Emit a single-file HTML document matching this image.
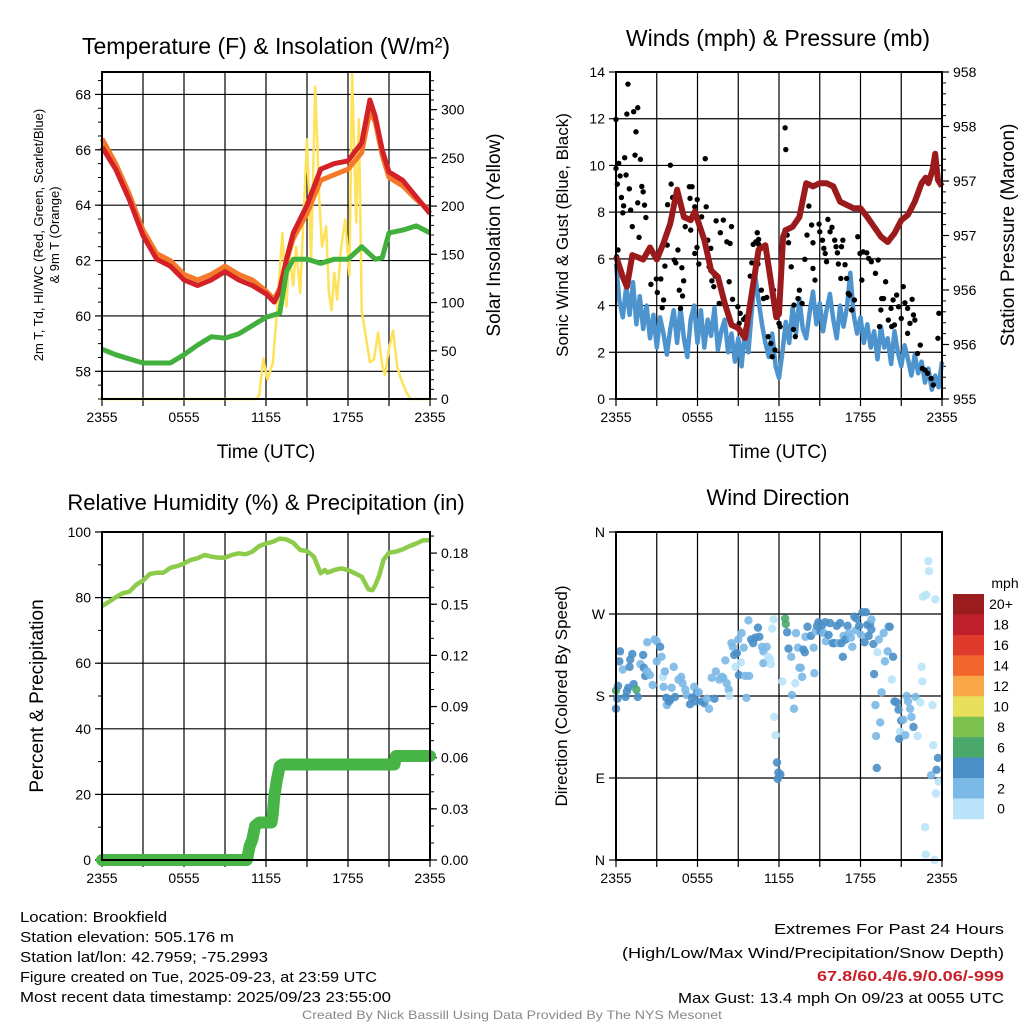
<!DOCTYPE html>
<html><head><meta charset="utf-8"><style>
html,body{margin:0;padding:0;background:#fff;}
svg{display:block;font-family:"Liberation Sans",sans-serif;}
</style></head><body>
<svg id="fig" width="1024" height="1024" viewBox="0 0 1024 1024" xmlns="http://www.w3.org/2000/svg">
<g id="root"></g>
</svg>
<script>
// ===== Panel 1 data =====
const tempHours = [0,1,2,3,4,5,6,7,8,9,10,11,12,12.6,13,13.5,14,15,16,17,18,19,19.6,20,20.5,21,22,23,24];
const tempRed   = [66.1,65.3,64.2,62.9,62.05,61.8,61.3,61.1,61.3,61.6,61.3,61.1,60.8,60.5,60.9,62.05,63.0,64.0,65.3,65.5,65.6,66.25,67.8,67.2,66.0,65.2,64.9,64.3,63.7];
const tempOrange= [66.4,65.5,64.4,63.1,62.25,62.0,61.5,61.3,61.5,61.8,61.5,61.3,60.9,60.6,61.0,62.0,62.8,63.7,64.9,65.1,65.3,65.9,67.4,67.0,65.8,65.0,64.7,64.2,63.8];
const dewHours  = [0,1,2,3,4,5,6,7,8,9,10,11,12,13,13.5,14,15,16,17,18,19,20,20.5,21,22,23,24];
const dewVals   = [58.8,58.6,58.45,58.3,58.3,58.3,58.6,58.95,59.25,59.2,59.35,59.65,59.95,60.1,61.6,62.05,62.05,61.9,62.05,62.05,62.5,62.05,62.1,63.0,63.1,63.25,63.0];
const solarHours= [0,11.3,11.5,11.8,12.1,12.5,12.8,13.1,13.2,13.5,13.7,14,14.2,14.5,14.8,15,15.3,15.6,15.9,16.1,16.4,16.6,16.8,17.0,17.2,17.5,17.8,18.1,18.3,18.6,18.8,19.0,19.3,19.6,19.9,20.2,20.5,20.7,21.0,21.3,21.6,21.9,22.3,22.6,24];
const solarVals = [0,0,4,42,20,37,89,151,172,96,151,118,158,110,207,269,144,324,207,158,179,110,92,131,103,158,186,128,338,183,290,92,65,38,41,69,35,25,52,71,33,20,6,0,0];
// ===== Panel 2 data =====
const windVals = [5.8,4.2,3.5,4.8,3.6,5.0,3.2,4.4,3.0,4.0,2.6,3.6,2.2,3.5,2.8,1.9,3.0,3.8,2.4,3.9,2.6,1.8,3.4,4.0,2.4,3.8,2.2,3.4,2.7,3.9,2.1,2.9,3.4,2.0,2.8,1.6,2.6,1.4,3.0,2.0,3.8,5.3,4.2,3.2,2.4,1.8,2.8,1.4,0.9,2.0,3.3,2.4,3.9,2.8,4.3,3.0,2.6,3.7,4.6,3.2,4.1,2.9,3.8,4.5,3.4,2.6,4.0,3.1,3.9,5.4,3.6,2.8,3.5,2.4,3.2,2.2,2.9,1.7,3.1,2.2,2.6,1.5,2.9,2.0,1.4,2.3,1.7,1.0,1.9,1.1,1.6,0.7,1.3,0.4,1.0,0.5,1.6];
const gustHours = [0,0,0.88,0.8,1.3,1.6,1.47,1.4,1.8,0.2,0.64,0.74,0.3,0.1,0.98,1.9,2.0,0.4,1.6,0.56,2.1,0.5,1.08,2.2,1.2,1.7,0.15,0.05,2.57,2.97,3.3,3.04,3.5,3.4,4.0,4.06,3.8,4.17,3.77,3.6,4.29,4.56,4.4,4.85,4.98,4.66,4.9,4.75,5.1,5.4,5.6,5.45,5.5,5.8,5.96,5.8,5.98,6.3,6.57,6.64,6.1,6.76,6.98,6.86,7.37,7.06,7.2,7.3,7.6,7.68,7.9,8.16,8.4,8.33,8.5,8.58,8.97,9.14,9.07,9.39,9.56,9.88,10,10.1,10.4,10.5,10.3,10.45,10.5,10.7,10.86,11.1,11.2,11.4,11.5,11.7,11.6,12,12.08,12.45,12.5,12.45,12.6,12.7,12.9,13.1,13.06,13.2,13.4,13.5,13.7,13.9,14.06,14.2,14.4,14.5,14.5,14.65,14.95,15.0,15.2,15.3,15.4,15.5,15.6,15.76,15.9,16.1,16.2,16.3,16.37,16.55,16.6,16.7,16.86,16.98,17.1,17.2,17.35,17.55,17.8,17.96,18.1,18.2,18.46,18.6,18.8,19.1,19.3,19.5,19.56,19.4,19.7,19.85,20.05,20.25,20.4,20.5,20.66,20.8,21,21.15,21.27,21.47,21.64,21.8,21.9,22.0,22.2,22.4,22.55,22.75,22.94,23.2,23.36,23.7,23.77,21.47,20.3];
const gustVals  = [9.87,11.97,13.48,12.2,12.3,12.47,11.44,10.44,10.26,10.09,10.33,9.59,9.55,9.2,9.0,9.1,8.87,8.63,8.4,8.27,8.3,7.97,8.09,7.77,7.38,6.92,6.38,6.09,4.91,5.14,5.14,4.56,4.24,3.91,10.01,9.2,8.32,8.63,6.59,5.69,5.95,6.38,5.83,5.62,5.06,4.66,4.41,3.88,7.38,9.09,9.09,8.59,7.23,6.23,6.49,8.23,8.54,7.8,10.29,8.23,5.78,6.8,6.45,5.66,7.63,5.06,4.81,5.26,4.09,7.12,7.66,6.73,6.66,5.02,7.38,4.27,3.95,3.67,3.24,3.41,3.52,5.26,5.83,6.62,7.12,6.83,6.73,5.78,6.62,4.66,4.3,4.35,2.67,2.38,1.81,2.1,4.66,3.24,3.1,11.61,10.68,7.23,7.02,6.69,5.66,4.02,2.98,2.67,4.3,4.66,4.09,5.98,7.02,8.26,7.45,6.69,5.59,5.09,7.49,7.16,6.8,6.45,6.23,5.88,7.69,7.16,7.35,6.8,6.52,6.26,5.78,5.16,6.52,6.8,5.75,5.16,4.52,4.45,3.81,4.24,6.95,6.23,5.09,6.3,6.26,6.02,5.88,5.38,5.95,3.81,4.3,3.1,4.3,5.02,3.38,3.88,4.24,3.17,4.45,3.95,3.45,4.81,4.12,3.88,3.24,4.27,3.6,3.38,1.95,2.31,1.31,1.24,1.1,0.88,0.6,2.6,3.67,2.81,3.1];
const presHours = [0,0.5,0.8,1.2,2,2.5,3,3.5,4,4.5,5,5.5,5.8,6.5,7,7.5,8,8.5,9,9.5,10,10.5,11,11.5,11.8,12,12.3,12.5,13,13.5,14,14.5,15,15.5,16,16.5,17,17.5,18,18.5,19,19.5,20,20.5,21,21.5,22,22.5,22.8,23,23.3,23.5,23.7,24];
const presVals  = [956.31,956.12,956.03,956.32,956.28,956.39,956.28,956.43,956.61,956.92,956.67,956.64,956.72,956.46,956.18,956.12,955.88,955.68,955.65,955.56,955.97,956.37,956.41,956.0,955.75,955.78,956.49,956.55,956.58,956.67,956.98,956.95,956.98,956.98,956.95,956.81,956.78,956.75,956.75,956.67,956.58,956.49,956.44,956.52,956.64,956.69,956.81,956.98,957.03,956.98,957.1,957.25,957.01,956.95];
// ===== Panel 3 data =====
const rhHours = [0,0.5,1,1.5,2,2.5,3,3.5,4,4.5,5,5.5,6,6.5,7,7.5,8,8.5,9,9.5,10,10.5,11,11.5,12,12.5,13,13.5,14,14.5,15,15.2,15.5,16,16.3,16.5,17,17.5,18,18.5,19,19.5,19.8,20,20.3,20.6,21,21.5,22,22.5,23,23.5,24];
const rhVals  = [77.4,78.7,80.1,81.3,81.8,83.9,85.2,87.2,87.6,87.6,89.1,89.6,90.4,91.5,92,93,92.5,92.2,92.2,93,93.5,93.2,94,95.7,96.5,97,98,97.7,96.7,94.5,94.2,93.5,92.5,87.4,88.4,87.6,88.4,88.9,88.4,87.4,86.4,82.5,82.3,83.8,86.9,91.5,93.7,94,94.7,95.7,96.5,97.5,97.5];
const pcpHours = [0,10.6,10.8,11,11.2,11.5,12.4,12.5,12.6,12.8,13,13.2,21.4,21.5,24];
const pcpVals  = [0,0,0.008,0.012,0.02,0.022,0.022,0.027,0.037,0.047,0.055,0.056,0.056,0.061,0.061];
// ===== Panel 4 data =====
const dirHours = [0,0,0.1,0.15,0.25,0.3,0.5,0.7,0.8,0.9,1.0,1.05,1.2,1.3,1.5,1.6,1.8,2.0,2.05,2.15,2.3,2.3,2.5,2.7,2.85,3.0,3.25,3.35,3.0,3.45,3.5,3.6,3.7,3.75,3.9,4.0,4.1,4.25,4.35,4.6,4.8,4.9,5.1,5.2,5.45,5.6,5.75,5.85,5.95,6.1,6.3,6.5,6.7,6.85,7.05,7.25,7.35,7.6,7.8,7.9,8.05,8.15,8.3,8.35,8.5,8.6,8.7,8.8,8.9,9.0,9.05,9.2,9.25,9.4,9.5,9.6,9.75,9.8,9.95,10.1,10.25,10.45,10.55,10.75,10.85,10.85,11.1,11.2,11.35,11.4,11.5,11.6,11.65,11.75,11.85,11.9,11.95,12.1,12.25,12.45,12.5,12.6,12.7,12.9,12.95,13.1,13.2,13.25,13.4,13.5,13.6,13.7,13.8,13.9,13.95,14.1,14.35,14.55,14.6,14.7,14.8,14.9,15.05,15.15,15.3,15.4,15.45,15.65,15.75,15.95,16.1,16.25,16.4,16.5,16.6,16.7,16.75,16.9,17.05,17.15,17.3,17.4,17.55,17.65,17.7,17.9,18.05,18.15,18.3,18.4,18.5,18.6,18.7,18.8,18.8,18.95,19.0,19.1,19.25,19.35,19.45,19.15,19.2,19.55,19.7,19.8,20.0,20.05,20.15,20.3,20.4,20.5,20.65,20.8,20.9,20.85,21.0,21.15,21.3,21.4,21.5,21.65,21.75,21.9,22.05,22.2,22.4,22.5,22.55,22.6,22.85,23.0,23.05,23.2,23.3,23.35,23.5,23.55,23.6,23.7,23.75,22.75,22.8,23.45];
const dirVals  = [166,186,177,191,218,229,209,179,185,189,212,220,226,193,187,179,215,225,211,202,207,239,203,192,242,240,234,223,218,201,190,207,178,170,174,176,189,212,179,198,201,194,187,181,171,178,190,174,183,184,174,172,177,166,200,177,207,198,201,200,219,194,187,180,238,234,225,212,227,242,203,217,249,233,202,178,263,202,242,238,244,255,245,234,229,216,234,223,220,215,254,264,157,137,107,89,96,94,196,265,259,250,232,223,181,166,194,249,233,211,211,201,231,228,245,256,246,233,205,251,257,261,251,257,249,261,240,247,260,238,238,257,238,260,238,223,246,242,257,249,244,234,267,252,265,257,247,272,239,272,258,246,259,253,264,237,204,170,228,242,151,136,101,184,249,218,229,256,256,198,223,174,173,165,141,133,153,154,137,180,174,166,157,146,179,136,173,212,196,289,291,328,317,93,170,126,286,73,99,112,86,36,6,0];
const dirSpeedCat = [2,3,2,2,2,2,1,2,2,2,2,2,2,2,3,2,1,2,2,2,1,1,1,1,1,1,2,1,1,0,1,1,2,1,2,2,1,1,2,1,1,1,1,1,2,2,1,2,2,1,2,2,1,1,1,2,1,1,1,1,1,1,1,0,1,1,2,0,2,1,2,0,1,1,1,1,1,1,2,2,2,2,2,1,1,1,1,0,0,0,0,0,0,0,2,2,2,2,0,3,3,2,2,1,1,1,0,1,1,1,1,1,2,2,1,2,2,1,1,1,2,2,2,2,1,2,1,2,2,2,2,2,1,2,2,2,1,2,2,1,1,1,2,1,2,2,1,2,2,2,2,2,2,2,1,2,2,1,0,1,1,1,2,1,1,1,1,1,2,0,2,2,2,2,0,2,2,1,1,1,1,1,1,2,1,0,0,0,0,0,0,0,0,1,0,0,0,0,2,2,0,0,0,0];
const speedColors = ['#b8e3f8','#7ab8e5','#4a8fc8','#4aa86b','#7dc24f','#e8e05a','#f9a748','#f2662b','#e03a2c','#bf1e2d','#9b1c1f'];
const speedLabels = ['0','2','4','6','8','10','12','14','16','18','20+'];
const timeTicks = ['2355','0555','1155','1755','2355'];

const NS='http://www.w3.org/2000/svg';
const root=document.getElementById('root');
function el(tag,attrs,parent,text){const e=document.createElementNS(NS,tag);for(const k in attrs)e.setAttribute(k,attrs[k]);if(text!==undefined)e.textContent=text;(parent||root).appendChild(e);return e;}
function lin(d0,d1,r0,r1){return v=>r0+(v-d0)*(r1-d0===0?0:(r1-r0)/(d1-d0));}

function panelFrame(g,x0,x1,y0,y1,ys,leftTicks,leftLabel){
  // vertical grid every 3h
  const xs=lin(0,24,x0,x1);
  for(let h=3;h<24;h+=3){const l=el('line',{x1:xs(h),x2:xs(h),y1:y0,y2:y1,stroke:'#000','stroke-width':1.2},g);}
  leftTicks.forEach(v=>{const y=ys(v);if(y>y0+1&&y<y1-1){const l=el('line',{x1:x0,x2:x1,y1:y,y2:y,stroke:'#000','stroke-width':1.2},g);}});
  for(let h=0;h<=24;h+=3){el('line',{x1:xs(h),x2:xs(h),y1:y1,y2:y1+7,stroke:'#000','stroke-width':1.2},g);}
  timeTicks.forEach((t,i)=>{const tx=el('text',{x:xs(i*6),y:y1+23,'font-size':14,'text-anchor':'middle'},g,t);});
  leftTicks.forEach(v=>{const y=ys(v);el('line',{x1:x0-7,x2:x0,y1:y,y2:y,stroke:'#000','stroke-width':1.2},g);const tx=el('text',{x:x0-11,y:y+5,'font-size':14,'text-anchor':'end'},g,leftLabel(v));});
  return xs;
}
function border(g,x0,x1,y0,y1){const r=el('rect',{x:x0,y:y0,width:x1-x0,height:y1-y0,fill:'none',stroke:'#000','stroke-width':2},g);}
function rightAxis(g,x1,ticks,ys,lab,minorStep,lo,hi){
  if(minorStep){for(let v=lo;v<=hi+1e-9;v+=minorStep){const y=ys(v);el('line',{x1:x1,x2:x1+4,y1:y,y2:y,stroke:'#000','stroke-width':1},g);}}
  ticks.forEach(v=>{const y=ys(v);el('line',{x1:x1,x2:x1+7,y1:y,y2:y,stroke:'#000','stroke-width':1.2},g);const tx=el('text',{x:x1+11,y:y+5,'font-size':14},g,lab(v));});
}
function pathOf(xsArr,ysArr,xs,ys){return xsArr.map((v,i)=>(i?'L':'M')+xs(v).toFixed(1)+','+ys(ysArr[i]).toFixed(1)).join(' ');}
function title(x,y,t,name,size){const tx=el('text',{x:x,y:y,'font-size':size||22,'text-anchor':'middle'},root,t);return tx;}
function rotText(x,y,t,name,size){const tx=el('text',{x:0,y:0,'font-size':size,'text-anchor':'middle',transform:`translate(${x},${y}) rotate(-90)`},root,t);return tx;}

// ---------- Panel 1 ----------
{
const g=el('g',{});
const X0=102,X1=430,Y0=72,Y1=399;
const ys=lin(57,68.81,Y1,Y0);
const xs=panelFrame(g,X0,X1,Y0,Y1,ys,[58,60,62,64,66,68],v=>String(v));
for(let v=57;v<=68.8;v+=0.5){el('line',{x1:X0-4,x2:X0,y1:ys(v),y2:ys(v),stroke:'#000'},g);}
const ys2=lin(0,339,Y1,Y0);
rightAxis(g,X1,[0,50,100,150,200,250,300],ys2,v=>String(v),10,0,330);
const s=el('path',{d:pathOf(solarHours,solarVals,xs,ys2),fill:'none',stroke:'#fde25a','stroke-width':2.5,'stroke-linejoin':'round'},g);
const o=el('path',{d:pathOf(tempHours,tempOrange,xs,ys),fill:'none',stroke:'#f47a2a','stroke-width':5,'stroke-linejoin':'round'},g);
const r=el('path',{d:pathOf(tempHours,tempRed,xs,ys),fill:'none',stroke:'#d42027','stroke-width':5,'stroke-linejoin':'round'},g);
const d=el('path',{d:pathOf(dewHours,dewVals,xs,ys),fill:'none',stroke:'#42b03d','stroke-width':5,'stroke-linejoin':'round'},g);
border(g,X0,X1,Y0,Y1);
}
title(266,54,'Temperature (F) & Insolation (W/m²)','temperature-panel-title',23);
title(266,458,'Time (UTC)','temperature-x-axis-title',19);
rotText(43,235,'2m T, Td, HI/WC (Red, Green, Scarlet/Blue)','temperature-y-axis-title-line1',13);
rotText(59,235,'& 9m T (Orange)','temperature-y-axis-title-line2',13);
rotText(500,235,'Solar Insolation (Yellow)','solar-y-axis-title',19);

// ---------- Panel 2 ----------
{
const g=el('g',{});
const X0=616,X1=942,Y0=72,Y1=399;
const ys=lin(0,14,Y1,Y0);
const xs=panelFrame(g,X0,X1,Y0,Y1,ys,[0,2,4,6,8,10,12,14],v=>String(v));
const ysP=lin(955,958,Y1,Y0);
const pt=[955,955.5,956,956.5,957,957.5,958];
rightAxis(g,X1,pt,ysP,v=>String(Math.round(v+0.001)),0.1,955,958);
const wh=windVals.map((v,i)=>i*0.25);
const w=el('path',{d:pathOf(wh,windVals,xs,ys),fill:'none',stroke:'#4d94cf','stroke-width':4.5,'stroke-linejoin':'round'},g);
gustHours.forEach((h,i)=>{const c=el('circle',{cx:xs(h),cy:ys(gustVals[i]),r:2.7,fill:'#000'},g);});
const p=el('path',{d:pathOf(presHours,presVals,xs,ysP),fill:'none',stroke:'#9b1b1d','stroke-width':6,'stroke-linejoin':'round'},g);
border(g,X0,X1,Y0,Y1);
}
title(778,46,'Winds (mph) & Pressure (mb)','winds-panel-title',23);
title(778,458,'Time (UTC)','winds-x-axis-title',19);
rotText(568,235,'Sonic Wind & Gust (Blue, Black)','wind-y-axis-title',17);
rotText(1014,235,'Station Pressure (Maroon)','pressure-y-axis-title',19);

// ---------- Panel 3 ----------
{
const g=el('g',{});
const X0=102,X1=430,Y0=532,Y1=860;
const ys=lin(0,100,Y1,Y0);
const xs=panelFrame(g,X0,X1,Y0,Y1,ys,[0,20,40,60,80,100],v=>String(v));
for(let v=0;v<=100;v+=10){el('line',{x1:X0-4,x2:X0,y1:ys(v),y2:ys(v),stroke:'#000'},g);}
const ysR=lin(0,0.06,Y1,757.7);
rightAxis(g,X1,[0,0.03,0.06,0.09,0.12,0.15,0.18],ysR,v=>v.toFixed(2),0.01,0,0.19);
const rh=el('path',{d:pathOf(rhHours,rhVals,xs,ys),fill:'none',stroke:'#8dcb4b','stroke-width':4.5,'stroke-linejoin':'round'},g);
const pc=el('path',{d:pathOf(pcpHours,pcpVals,xs,ysR),fill:'none',stroke:'#46b546','stroke-width':12,'stroke-linejoin':'round','stroke-linecap':'round'},g);
border(g,X0,X1,Y0,Y1);
}
title(266,510,'Relative Humidity (%) & Precipitation (in)','humidity-panel-title',22);
rotText(43,696,'Percent & Precipitation','humidity-y-axis-title',19);

// ---------- Panel 4 ----------
{
const g=el('g',{});
const X0=616,X1=942,Y0=532,Y1=860;
const ys=lin(0,360,Y1,Y0);
const labs={0:'N',90:'E',180:'S',270:'W',360:'N'};
const xs=panelFrame(g,X0,X1,Y0,Y1,ys,[0,90,180,270,360],v=>labs[v]);
dirHours.forEach((h,i)=>{const c=el('circle',{cx:xs(h),cy:ys(dirVals[i]),r:4.2,fill:speedColors[dirSpeedCat[i]],'fill-opacity':0.9},g);});
border(g,X0,X1,Y0,Y1);
// colorbar
const cb=el('g',{});
const bh=20.45;
for(let i=0;i<11;i++){const k=10-i;const y=594+i*bh;
 const r=el('rect',{x:953,y:y,width:31,height:bh+0.3,fill:speedColors[k]},cb);
 const t=el('text',{x:1001,y:y+bh/2+5,'font-size':14,'text-anchor':'middle'},cb,speedLabels[k]);}
const u=el('text',{x:1005,y:588,'font-size':14,'text-anchor':'middle'},cb,'mph');
}
title(778,505,'Wind Direction','wind-direction-title',22);
rotText(567,696,'Direction (Colored By Speed)','direction-y-axis-title',17);

// ---------- Footer ----------
const leftLines=[['Location: Brookfield',147],['Station elevation: 505.176 m',214],['Station lat/lon: 42.7959; -75.2993',248],['Figure created on Tue, 2025-09-23, at 23:59 UTC',357],['Most recent data timestamp: 2025/09/23 23:55:00',371]];
leftLines.forEach((l,i)=>{const t=el('text',{x:20,y:922+i*20,'font-size':15,textLength:l[1],lengthAdjust:'spacingAndGlyphs'},root,l[0]);});
const rightLines=[['Extremes For Past 24 Hours',230,934,'#000','normal'],['(High/Low/Max Wind/Precipitation/Snow Depth)',382,958,'#000','normal'],['67.8/60.4/6.9/0.06/-999',187,981,'#c8202a','bold'],['Max Gust: 13.4 mph On 09/23 at 0055 UTC',326,1003,'#000','normal']];
rightLines.forEach(l=>{const t=el('text',{x:1004-l[1],y:l[2],'font-size':15,fill:l[3],'font-weight':l[4],textLength:l[1],lengthAdjust:'spacingAndGlyphs'},root,l[0]);});
const cr=el('text',{x:302,y:1019,'font-size':12,fill:'#888',textLength:420,lengthAdjust:'spacingAndGlyphs'},root,'Created By Nick Bassill Using Data Provided By The NYS Mesonet');


</script>
</body></html>
